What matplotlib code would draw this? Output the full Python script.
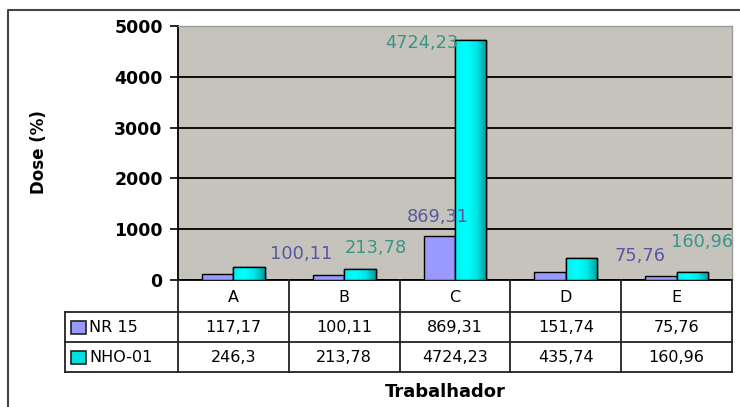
import numpy as np
import matplotlib
matplotlib.use("Agg")
import matplotlib.pyplot as plt
from matplotlib.colors import LinearSegmentedColormap
from matplotlib.patches import Rectangle

plt.rcParams['font.family'] = ['DejaVu Sans']

trabalhadores = ["A", "B", "C", "D", "E"]
nr15 = [117.17, 100.11, 869.31, 151.74, 75.76]
nho01 = [246.3, 213.78, 4724.23, 435.74, 160.96]
nr15_txt = ["117,17", "100,11", "869,31", "151,74", "75,76"]
nho01_txt = ["246,3", "213,78", "4724,23", "435,74", "160,96"]
# which bars got a data label in the original, and where excel dropped it (px)
nr15_lbl = {1: (-27, 21), 2: (-1, 19), 4: (-21, 20)}
nho01_lbl = {1: (16, 21), 2: (-49, -3), 4: (10, 30)}

W, H = 740, 407
L, R, T, B = 178, 732, 26, 280   # plot area in px
c_nr = '#9999ff'
c_nho_txt = '#3a9587'
c_nr_txt = '#5858a2'

fig = plt.figure(figsize=(W / 100, H / 100), dpi=100)
ax = fig.add_axes([L / W, 1 - B / H, (R - L) / W, (B - T) / H])
ax.set_facecolor('#c6c3bc')

x = np.arange(len(trabalhadores))
bw = 0.284
b1 = ax.bar(x - bw / 2, nr15, bw, color=c_nr, edgecolor='black', linewidth=1, zorder=3)
b2 = ax.bar(x + bw / 2, nho01, bw, color='#00e0e0', edgecolor='black', linewidth=1, zorder=3)

cmap = LinearSegmentedColormap.from_list('cy', ['#00f0f0', '#00ffff', '#00e8e8', '#009c9c'])
grad = np.linspace(0, 1, 64).reshape(1, -1)
for p in b2:
    x0, y0 = p.get_x(), p.get_y()
    im = ax.imshow(grad, cmap=cmap, aspect='auto', zorder=3.5,
                   extent=[x0, x0 + p.get_width(), y0, y0 + p.get_height()])
    im.set_clip_path(p)
    ax.add_patch(Rectangle((x0, y0), p.get_width(), p.get_height(), fill=False,
                           edgecolor='black', linewidth=1, zorder=4))

for i, (dx, dy) in nr15_lbl.items():
    ax.annotate(nr15_txt[i], (x[i] - bw / 2, nr15[i]), xytext=(dx * 0.72, dy * 0.72),
                textcoords='offset points', ha='center', va='center',
                fontsize=12.8, color=c_nr_txt, zorder=6, annotation_clip=False)
for i, (dx, dy) in nho01_lbl.items():
    ax.annotate(nho01_txt[i], (x[i] + bw / 2, nho01[i]), xytext=(dx * 0.72, dy * 0.72),
                textcoords='offset points', ha='center', va='center',
                fontsize=12.8, color=c_nho_txt, zorder=6, annotation_clip=False)

ax.set_xlim(-0.5, len(trabalhadores) - 0.5)
ax.set_ylim(0, 5000)
ax.set_yticks([0, 1000, 2000, 3000, 4000, 5000])
ax.set_xticks([])
ax.grid(axis='y', color='black', linewidth=1.3, zorder=1)
ax.set_axisbelow(True)
for s in ['top', 'right']:
    ax.spines[s].set_color('#9a9a9a')
    ax.spines[s].set_linewidth(1)
ax.spines['left'].set_linewidth(1.3)
ax.spines['bottom'].set_linewidth(1.3)
ax.tick_params(axis='y', direction='out', length=6, width=1.2, pad=5,
               labelsize=12.5)
for t in ax.get_yticklabels():
    t.set_fontweight('bold')

# overlay in pixel coordinates for table, frame and labels
ov = fig.add_axes([0, 0, 1, 1], zorder=10)
ov.set_xlim(0, W)
ov.set_ylim(H, 0)
ov.axis('off')
ov.patch.set_alpha(0)

ov.plot([8, 8, W], [H, 10, 10], color='#444444', lw=1.5)

n = len(trabalhadores)
cw = (R - L) / n
cols = [L + i * cw for i in range(n + 1)]
rows = [B, 312, 342, 372]
leg_l = 65
lk = dict(color='#222222', lw=1.3)
ov.plot([leg_l, R], [rows[1], rows[1]], **lk)
ov.plot([leg_l, R], [rows[2], rows[2]], **lk)
ov.plot([leg_l, R], [rows[3], rows[3]], **lk)
ov.plot([leg_l, leg_l], [rows[1], rows[3]], **lk)
for cx in cols:
    ov.plot([cx, cx], [rows[0], rows[3]], **lk)

for i, name in enumerate(trabalhadores):
    cx = (cols[i] + cols[i + 1]) / 2
    ov.text(cx, (rows[0] + rows[1]) / 2 + 1, name, ha='center', va='center', fontsize=11.5)
    ov.text(cx, (rows[1] + rows[2]) / 2 + 1, nr15_txt[i], ha='center', va='center', fontsize=11.5)
    ov.text(cx, (rows[2] + rows[3]) / 2 + 1, nho01_txt[i], ha='center', va='center', fontsize=11.5)

series = [("NR 15", c_nr), ("NHO-01", '#00e0e0')]
for j, (lab, col) in enumerate(series):
    ym = (rows[j + 1] + rows[j + 2]) / 2
    ov.add_patch(Rectangle((71, ym - 6), 15, 13, facecolor=col, edgecolor='#222222', lw=1.2))
    ov.text(89, ym + 1, lab, ha='left', va='center', fontsize=11.5)

ov.text(445, 392, "Trabalhador", ha='center', va='center', fontsize=13, fontweight='bold')
ov.text(39, 152, "Dose (%)", ha='center', va='center', rotation=90, fontsize=12, fontweight='bold')

fig.savefig("out.png", dpi=100, facecolor='white')
